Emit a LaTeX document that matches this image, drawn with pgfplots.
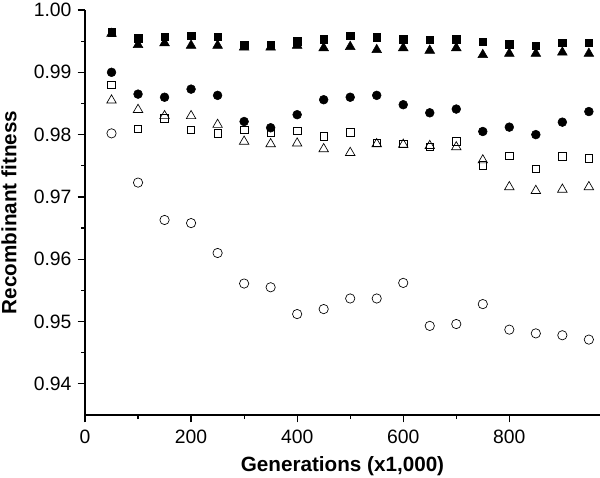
\documentclass[border=0pt]{standalone}
\usepackage{fontspec}
\setmainfont{Liberation Sans}
\usepackage{pgfplots}
\pgfplotsset{compat=1.18}

\begin{document}
\begin{tikzpicture}
\begin{axis}[
    name=main,
    scale only axis,
    width=386.25pt, height=303.75pt,
    xmin=0, xmax=971,
    ymin=0.935, ymax=1.0,
    axis x line*=bottom, axis y line*=left,
    axis line style={-, line width=1.1pt},
    tick style={black, line width=0.9pt},
    tick align=outside,
    major tick length=5.6pt, minor tick length=3pt,
    xtick={0,200,400,600,800},
    ytick={0.94,0.95,0.96,0.97,0.98,0.99,1.00},
    minor x tick num=1, minor y tick num=1,
    /pgf/number format/assume math mode=true,
    ticklabel style={font=\fontsize{14.5}{16}\selectfont},
    xticklabel style={anchor=north, yshift=-2pt},
    yticklabel style={anchor=east, xshift=-1pt,
        /pgf/number format/.cd, fixed, fixed zerofill, precision=2},
    xlabel={\textbf{Generations (x1,000)}},
    ylabel={\textbf{Recombinant fitness}},
    label style={font=\fontsize{15.5}{18}\selectfont},
    xlabel style={at={([yshift=-38.5pt]rel axis cs:0.5,0)}, anchor=center},
    ylabel style={at={([xshift=-57pt]rel axis cs:0,0.5)}, anchor=center},
    clip=false,
]
% filled squares
\addplot[only marks, mark=square*, mark size=2.8pt, black] coordinates {
(50,0.9964)(100,0.9955)(150,0.9957)(200,0.9959)(250,0.9957)(300,0.9944)(350,0.9944)
(400,0.9950)(450,0.9953)(500,0.9959)(550,0.9956)(600,0.9953)(650,0.9952)(700,0.9953)
(750,0.9949)(800,0.9945)(850,0.9943)(900,0.9947)(950,0.9947)};
% filled triangles
\addplot[only marks, mark=triangle*, mark size=4.2pt, black] coordinates {
(50,0.9962)(100,0.9944)(150,0.9947)(200,0.9943)(250,0.9943)(300,0.9940)(350,0.9940)
(400,0.9943)(450,0.9939)(500,0.9941)(550,0.9936)(600,0.9939)(650,0.9935)(700,0.9939)
(750,0.9928)(800,0.9930)(850,0.9930)(900,0.9932)(950,0.9930)};
% filled circles
\addplot[only marks, mark=*, mark size=3.3pt, black] coordinates {
(50,0.9900)(100,0.9865)(150,0.9860)(200,0.9873)(250,0.9863)(300,0.9821)(350,0.9811)
(400,0.9832)(450,0.9856)(500,0.9860)(550,0.9863)(600,0.9848)(650,0.9835)(700,0.9841)
(750,0.9805)(800,0.9812)(850,0.9800)(900,0.9820)(950,0.9837)};
% open squares
\addplot[only marks, mark=square, mark size=2.8pt, black, mark options={line width=0.5pt}] coordinates {
(50,0.9880)(100,0.9809)(150,0.9826)(200,0.9808)(250,0.9802)(300,0.9808)(350,0.9804)
(400,0.9806)(450,0.9797)(500,0.9804)(550,0.9787)(600,0.9785)(650,0.9780)(700,0.9789)
(750,0.9751)(800,0.9766)(850,0.9745)(900,0.9765)(950,0.9762)};
% open triangles
\addplot[only marks, mark=triangle, mark size=4.1pt, black, mark options={line width=0.5pt}] coordinates {
(50,0.9855)(100,0.9840)(150,0.9830)(200,0.9830)(250,0.9816)(300,0.9789)(350,0.9785)
(400,0.9786)(450,0.9777)(500,0.9771)(550,0.9785)(600,0.9784)(650,0.9782)(700,0.9780)
(750,0.9759)(800,0.9716)(850,0.9710)(900,0.9712)(950,0.9716)};
% open circles
\addplot[only marks, mark=o, mark size=3.5pt, black, mark options={line width=0.5pt}] coordinates {
(50,0.9802)(100,0.9723)(150,0.9663)(200,0.9658)(250,0.9610)(300,0.9561)(350,0.9555)
(400,0.9512)(450,0.9520)(500,0.9537)(550,0.9537)(600,0.9562)(650,0.9493)(700,0.9496)
(750,0.9528)(800,0.9487)(850,0.9481)(900,0.9478)(950,0.9471)};
\end{axis}
\pgfresetboundingbox
\path ([shift={(-63.75pt,-46.5pt)}]main.south west) rectangle ([shift={(0pt,7.5pt)}]main.north east);
\end{tikzpicture}
\end{document}
